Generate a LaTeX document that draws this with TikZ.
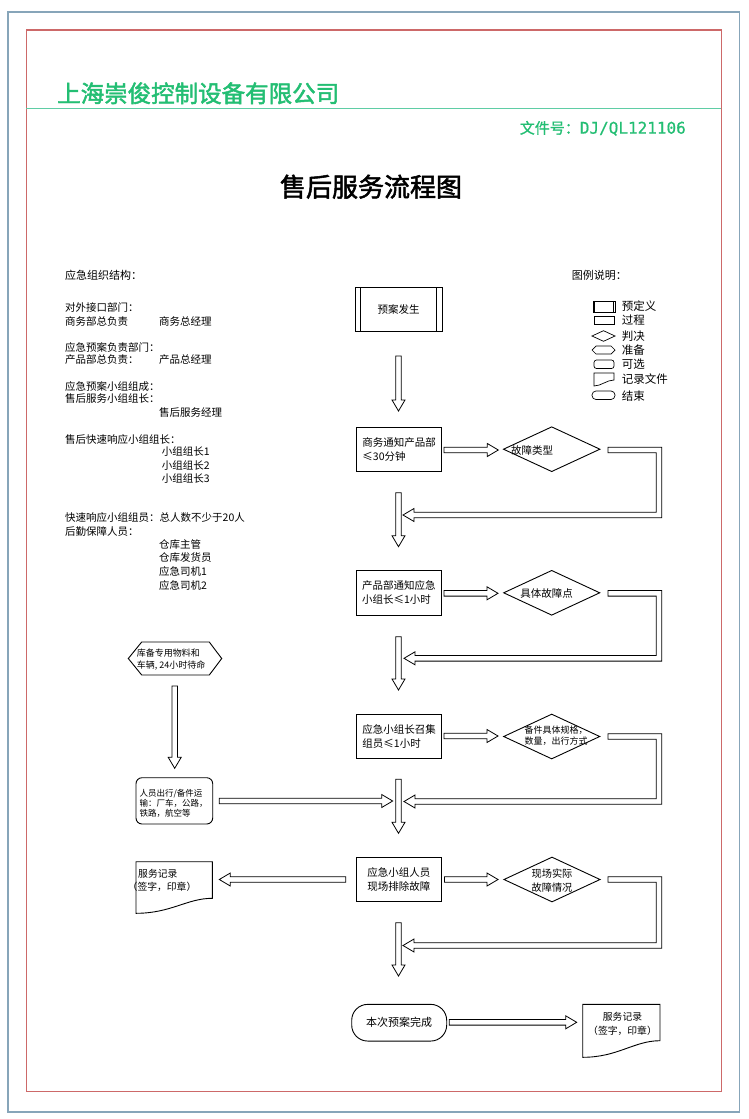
\documentclass[tikz,border=0pt]{standalone}
\usepackage{fontspec}
\setmainfont{Noto Sans CJK SC}
\newfontfamily\heavyfont[FakeBold=2]{Noto Sans CJK SC}
\newfontfamily\midfont[FakeBold=1]{Noto Sans CJK SC}
\newfontfamily\monofnt[FakeBold=0.6]{DejaVu Sans Mono}
\usetikzlibrary{calc}
\definecolor{hdrgreen}{RGB}{35,190,115}
\definecolor{linegreen}{RGB}{95,205,165}
\definecolor{framered}{RGB}{205,105,105}
\definecolor{frameblue}{RGB}{135,165,185}
\tikzset{
  txt/.style={inner sep=0pt, anchor=west, font=\fontsize{10.5}{13}\selectfont},
  legtxt/.style={inner sep=0pt, anchor=west, font=\fontsize{11.5}{13}\selectfont},
  box/.style={draw, line width=0.9pt, inner sep=0pt, align=left, font=\fontsize{10.5}{14}\selectfont},
  lbl/.style={inner sep=0pt, align=left, font=\fontsize{10.5}{14}\selectfont},
  blk/.style={draw, line width=0.8pt, line join=miter},
  shp/.style={draw, line width=0.9pt},
  leg/.style={draw, line width=0.7pt},
}
\newcommand\arrDown[3]{\draw[blk] (#1-2.8,#2) -- (#1+2.8,#2) -- (#1+2.8,#3-11) -- (#1+6.5,#3-11) -- (#1,#3) -- (#1-6.5,#3-11) -- (#1-2.8,#3-11) -- cycle;}
\newcommand\arrRight[3]{\draw[blk] (#2,#1-2.8) -- (#3-11,#1-2.8) -- (#3-11,#1-6.5) -- (#3,#1) -- (#3-11,#1+6.5) -- (#3-11,#1+2.8) -- (#2,#1+2.8) -- cycle;}
\newcommand\arrLeft[3]{\draw[blk] (#2,#1-2.8) -- (#3+11,#1-2.8) -- (#3+11,#1-6.5) -- (#3,#1) -- (#3+11,#1+6.5) -- (#3+11,#1+2.8) -- (#2,#1+2.8) -- cycle;}
\newcommand\arrLoop[5]{\draw[blk] (#2,#1-2.8) -- (#3+2.8,#1-2.8) -- (#3+2.8,#4+2.8) -- (#5+11,#4+2.8) -- (#5+11,#4+6.5) -- (#5,#4) -- (#5+11,#4-6.5) -- (#5+11,#4-2.8) -- (#3-2.8,#4-2.8) -- (#3-2.8,#1+2.8) -- (#2,#1+2.8) -- cycle;}
\begin{document}
\begin{tikzpicture}[x=1pt,y=-1pt]
\useasboundingbox (0,0) rectangle (748,1119);
\fill[white] (0,0) rectangle (748,1119);
% frames
\draw[frameblue, line width=1.8pt] (8,11.7) rectangle (739.5,1111.7);
\draw[framered, line width=1.1pt] (26.2,30) rectangle (721.4,1091.7);
\draw[linegreen, line width=1pt] (26.2,108.3) -- (721.4,108.3);
% header
\node[inner sep=0pt, anchor=west, text=hdrgreen, font=\heavyfont\fontsize{23.5}{25}\selectfont] (company) at (57,93.3) {上海崇俊控制设备有限公司};
\node[inner sep=0pt, anchor=east, text=hdrgreen] (docno) at (686,128.3) {{\midfont\fontsize{15}{16}\selectfont 文件号：}{\monofnt\fontsize{16}{16}\selectfont DJ/QL121106}};
\node[inner sep=0pt, font=\heavyfont\fontsize{26}{28}\selectfont] (title) at (371,186.7) {售后服务流程图};
% left organisation text
\node[txt, font=\fontsize{11}{13}\selectfont] (o1) at (65,275.7) {应急组织结构：};
\node[txt] (o2) at (65,307.7) {对外接口部门：};
\node[txt] (o3) at (65,321) {商务部总负责};
\node[txt] (o4) at (159,321) {商务总经理};
\node[txt] (o5) at (65,347) {应急预案负责部门：};
\node[txt] (o6) at (65,360) {产品部总负责：};
\node[txt] (o7) at (159,360) {产品总经理};
\node[txt] (o8) at (65,386.7) {应急预案小组组成：};
\node[txt] (o9) at (65,399) {售后服务小组组长：};
\node[txt] (o10) at (159,413) {售后服务经理};
\node[txt] (o11) at (65,439) {售后快速响应小组组长：};
\node[txt] (o12) at (161.7,452) {小组组长1};
\node[txt] (o13) at (161.7,465.7) {小组组长2};
\node[txt] (o14) at (161.7,479) {小组组长3};
\node[txt] (o15) at (65,517.7) {快速响应小组组员：总人数不少于20人};
\node[txt] (o16) at (65,531.7) {后勤保障人员：};
\node[txt] (o17) at (159,545) {仓库主管};
\node[txt] (o18) at (159,558) {仓库发货员};
\node[txt] (o19) at (159,571.7) {应急司机1};
\node[txt] (o20) at (159,585) {应急司机2};
% legend
\node[txt, font=\fontsize{11}{13}\selectfont] (lt) at (571.7,275.7) {图例说明：};
\draw[leg] (593,301.7) rectangle (615,312);
\draw[leg] (594.8,301.7) -- (594.8,312) (613.2,301.7) -- (613.2,312);
\node[legtxt] (l1) at (621.7,305.7) {预定义};
\draw[leg] (594,316) rectangle (614,324);
\node[legtxt] (l2) at (621.7,320.5) {过程};
\draw[leg] (592,336) -- (603.5,330.7) -- (615,336) -- (603.5,341.3) -- cycle;
\node[legtxt] (l3) at (621.7,336) {判决};
\draw[leg] (592,350) -- (596,346) -- (611,346) -- (615,350) -- (611,354) -- (596,354) -- cycle;
\node[legtxt] (l4) at (621.7,350) {准备};
\draw[leg, rounded corners=2.5pt] (594,360) rectangle (614,368.5);
\node[legtxt] (l5) at (621.7,364.5) {可选};
\draw[leg] (594,373) -- (614,373) -- (614,380) .. controls (607,380) and (601,386) .. (594,386) -- cycle;
\node[legtxt] (l6) at (621.7,379.5) {记录文件};
\draw[leg, rounded corners=4pt] (592,391) rectangle (615,399.5);
\node[legtxt] (l7) at (621.7,395.7) {结束};
% main flow boxes
\node[box, minimum width=87.3pt, minimum height=44.4pt, align=center] (start) at (398.7,309.5) {预案发生};
\draw[shp] (360.7,287.3) -- (360.7,331.7) (436.7,287.3) -- (436.7,331.7);
\node[box, minimum width=85pt, minimum height=44.4pt] (b1) at (399.2,449.5) {商务通知产品部\\≤30分钟};
\node[box, minimum width=84.3pt, minimum height=44.3pt] (b2) at (398.8,592.8) {产品部通知应急\\小组长≤1小时};
\node[box, minimum width=85pt, minimum height=44.3pt] (b3) at (399.2,736.2) {应急小组长召集\\组员≤1小时};
\node[box, minimum width=85.7pt, minimum height=44.4pt] (b4) at (398.8,879.5) {应急小组人员\\现场排除故障};
\node[box, minimum width=95pt, minimum height=36.7pt, rounded corners=16pt, align=center, font=\fontsize{11}{13}\selectfont] (finish) at (399.2,1022.7) {本次预案完成};
% diamonds
\draw[shp] (503.5,449.2) -- (551.7,426.9) -- (599.9,449.2) -- (551.7,471.5) -- cycle;
\node[lbl] (d1) at (532,450) {故障类型};
\draw[shp] (503.7,592.8) -- (551.7,570.5) -- (599.7,592.8) -- (551.7,615.1) -- cycle;
\node[lbl] (d2) at (546.5,593) {具体故障点};
\draw[shp] (503.7,736.5) -- (551.7,714.2) -- (599.7,736.5) -- (551.7,758.8) -- cycle;
\node[lbl, font=\fontsize{9}{11}\selectfont] (d3) at (556,735.5) {备件具体规格，\\数量，出行方式};
\draw[shp] (504,879.5) -- (552,857.2) -- (600,879.5) -- (552,901.8) -- cycle;
\node[lbl, align=center, font=\fontsize{10.2}{13.7}\selectfont] (d4) at (552,880.3) {现场实际\\故障情况};
% left side shapes
\draw[shp] (128.3,658.5) -- (141.7,642) -- (209.3,642) -- (221.7,658.5) -- (209.3,675) -- (141.7,675) -- cycle;
\node[lbl, font=\fontsize{9}{12.7}\selectfont, anchor=west] (hex) at (136.7,659.5) {库备专用物料和\\车辆, 24小时待命};
\draw[shp, rounded corners=6pt] (136,777.7) rectangle (212.7,824);
\node[lbl, font=\fontsize{8.5}{10}\selectfont, anchor=west] (trans) at (139.3,803.3) {人员出行/备件运\\输：厂车，公路，\\铁路，航空等};
% documents
\draw[shp] (136,861.7) -- (212.3,861.7) -- (212.3,898.3) .. controls (187,898.3) and (171,913.3) .. (136,913.3) -- cycle;
\node[lbl, anchor=west, font=\fontsize{9.8}{12}\selectfont] (rec1a) at (138,873.3) {服务记录};
\node[lbl, anchor=west, font=\fontsize{9.8}{12}\selectfont] (rec1b) at (127.5,886.7) {（签字，印章）};
\draw[shp] (582.7,1004.3) -- (660,1004.3) -- (660,1040.7) .. controls (634,1040.7) and (618,1057.3) .. (582.7,1057.3) -- cycle;
\node[lbl, align=center, font=\fontsize{9.8}{14}\selectfont] (rec2) at (622.5,1023.7) {服务记录\\（签字，印章）};
% hollow arrows
\arrDown{398.5}{356}{411}
\arrDown{398.5}{492.7}{546.7}
\arrDown{398.5}{636.7}{690}
\arrDown{398.5}{779.3}{833.3}
\arrDown{398.5}{922.7}{976}
\arrDown{174.7}{686}{768.3}
\arrRight{450}{444}{498.3}
\arrRight{593.3}{444}{498}
\arrRight{736}{444}{498}
\arrRight{879.5}{444.5}{498}
\arrRight{801}{219.3}{392.7}
\arrRight{1022.3}{449.3}{576.7}
\arrLeft{879.5}{345.7}{219.3}
\arrLoop{450}{608}{659}{515}{403}
\arrLoop{593.3}{608}{659}{658.3}{404}
\arrLoop{736.5}{608}{659}{801.5}{404}
\arrLoop{879.5}{608}{659}{945.5}{403}
\end{tikzpicture}
\end{document}
